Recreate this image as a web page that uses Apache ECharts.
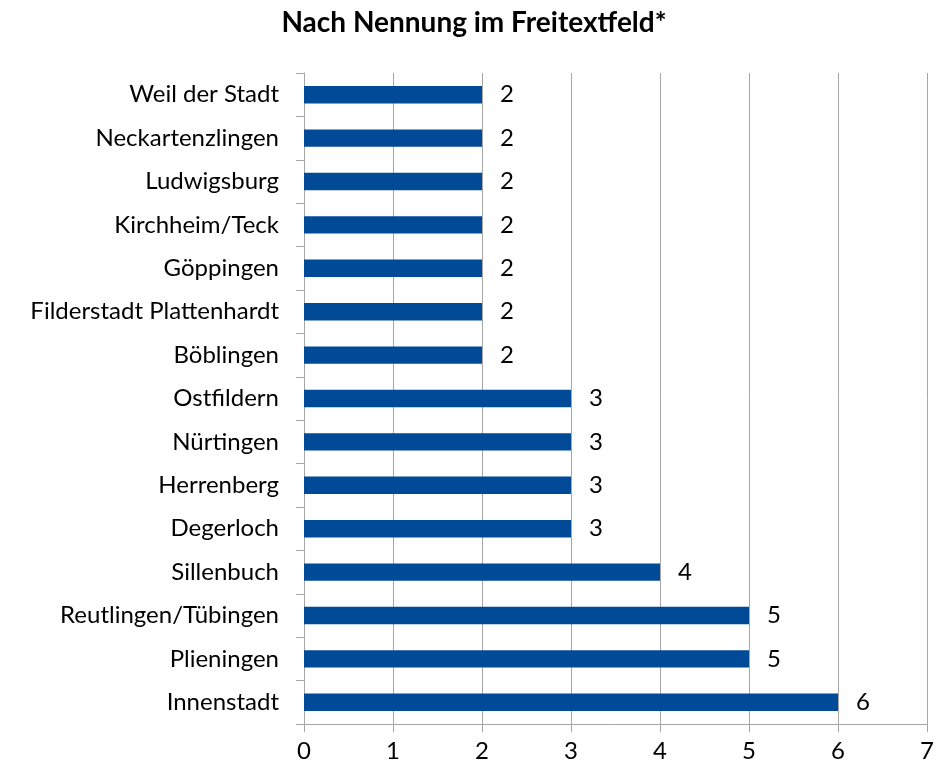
<!DOCTYPE html>
<html>
<head>
<meta charset="utf-8">
<script src="https://cdn.jsdelivr.net/npm/echarts@6/dist/echarts.min.js"></script>
<style>
  html, body { margin: 0; padding: 0; background: #fff; }
  #main { width: 948px; height: 768px; }
</style>
</head>
<body>
<div id="main"></div>
<script>
// Kategorien von oben nach unten
var orte = ['Weil der Stadt', 'Neckartenzlingen', 'Ludwigsburg', 'Kirchheim/Teck', 'Göppingen',
  'Filderstadt Plattenhardt', 'Böblingen', 'Ostfildern', 'Nürtingen', 'Herrenberg', 'Degerloch',
  'Sillenbuch', 'Reutlingen/Tübingen', 'Plieningen', 'Innenstadt'];
var nennungen = [2, 2, 2, 2, 2, 2, 2, 3, 3, 3, 3, 4, 5, 5, 6];
var xTicks = [0, 1, 2, 3, 4, 5, 6, 7];

var fontName = 'Lato, "Open Sans", sans-serif';
var gridGray = '#a6a6a6';

var myChart = echarts.init(document.getElementById('main'));
var option = {
  animation: false,
  title: {
    text: 'Nach Nennung im Freitextfeld*',
    left: 'center',
    top: 4,
    textStyle: { fontFamily: fontName, fontSize: 28, fontWeight: 'bold', color: '#000' }
  },
  grid: { left: 304, right: 21, top: 73, bottom: 44 },
  xAxis: {
    type: 'value',
    min: xTicks[0],
    max: xTicks[xTicks.length - 1],
    interval: 1,
    axisLine: { show: true, lineStyle: { color: gridGray } },
    axisTick: { show: true, length: 8, lineStyle: { color: gridGray } },
    splitLine: { show: true, lineStyle: { color: gridGray, width: 1 } },
    axisLabel: { fontFamily: fontName, fontSize: 24, color: '#000', margin: 15 }
  },
  yAxis: {
    type: 'category',
    inverse: true,
    data: orte,
    axisLine: { show: true, lineStyle: { color: gridGray } },
    axisTick: { show: true, length: 8, lineStyle: { color: gridGray } },
    axisLabel: { fontFamily: fontName, fontSize: 24, color: '#000', margin: 25 }
  },
  series: [{
    type: 'bar',
    data: nennungen,
    barWidth: '40%',
    itemStyle: { color: '#004a98' },
    label: {
      show: true,
      position: 'right',
      distance: 18,
      fontFamily: fontName,
      fontSize: 24,
      color: '#000'
    }
  }]
};
myChart.setOption(option);
</script>
</body>
</html>
